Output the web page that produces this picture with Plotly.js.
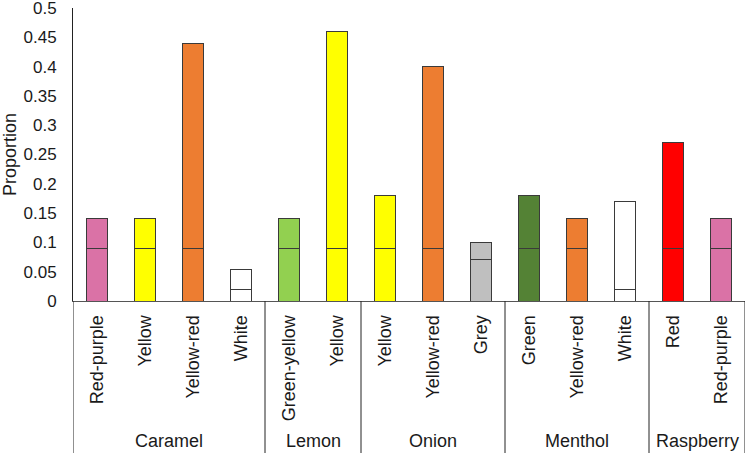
<!DOCTYPE html>
<html>
<head>
<meta charset="utf-8">
<script src="https://cdn.plot.ly/plotly-3.0.1.min.js"></script>
<style>html,body{margin:0;padding:0;background:#fff;}#chart{width:747px;height:453px;}</style>
</head>
<body>
<div id="chart"></div>
<script>
const flavours = ["Caramel","Caramel","Caramel","Caramel","Lemon","Lemon","Onion","Onion","Onion","Menthol","Menthol","Menthol","Raspberry","Raspberry"];
const colourNames = ["Red-purple","Yellow","Yellow-red","White","Green-yellow","Yellow","Yellow","Yellow-red","Grey","Green","Yellow-red","White","Red","Red-purple"];
const proportions = [0.14,0.14,0.44,0.053,0.14,0.46,0.18,0.40,0.10,0.18,0.14,0.17,0.27,0.14];
const thresholds = [0.09,0.09,0.09,0.02,0.09,0.09,0.09,0.09,0.07,0.09,0.09,0.02,0.09,0.09];
const groups = ["Caramel","Lemon","Onion","Menthol","Raspberry"];
const yTickVals = [0,0.05,0.1,0.15,0.2,0.25,0.3,0.35,0.4,0.45,0.5];
const yTickText = ["0","0.05","0.1","0.15","0.2","0.25","0.3","0.35","0.4","0.45","0.5"];
const fills = {"Red-purple":"#DA72A6","Yellow":"#FFFF00","Yellow-red":"#ED7D31","White":"#FFFFFF","Green-yellow":"#92D050","Grey":"#BFBFBF","Green":"#548235","Red":"#FF0000"};

const idx = colourNames.map((_, i) => i);
const barColours = colourNames.map(c => fills[c]);
const lineStyle = {color:"#3a3a3a", width:1};
const lowerTrace = {type:"bar", x:idx, y:thresholds, width:0.42, marker:{color:barColours, line:lineStyle}, hoverinfo:"skip"};
const upperTrace = {type:"bar", x:idx, y:proportions.map((p,i)=>p-thresholds[i]), width:0.42, marker:{color:barColours, line:lineStyle}, hoverinfo:"skip"};

const FONT = "Liberation Sans, Arial, sans-serif";
const plotH = 453 - 8 - 152;
const bottomFrac = -152 / plotH;
const shapes = [];
const annotations = [];
const bounds = [-0.5];
groups.forEach(g => {
  const members = idx.filter(i => flavours[i] === g);
  const last = members[members.length-1];
  bounds.push(last + 0.5);
  annotations.push({x:(members[0]+last)/2, xref:"x", y:(301-441)/plotH, yref:"paper", text:g, showarrow:false, font:{family:FONT, size:18, color:"#1a1a1a"}, yanchor:"middle"});
});
bounds.forEach(b => shapes.push({type:"line", xref:"x", yref:"paper", x0:b, x1:b, y0:0, y1:bottomFrac, line:{color:"#222", width:1}}));

const layout = {
  width:747, height:453,
  margin:{l:73, r:2, t:8, b:152},
  barmode:"stack",
  showlegend:false,
  paper_bgcolor:"#fff", plot_bgcolor:"#fff",
  font:{family:FONT, size:17, color:"#1a1a1a"},
  xaxis:{range:[-0.5,13.5], tickvals:idx, ticktext:colourNames, tickangle:-90, showline:true, linecolor:"#555", linewidth:1, ticks:"", ticklabelstandoff:6, showgrid:false, zeroline:false, tickfont:{size:18, color:"#1a1a1a"}, fixedrange:true},
  yaxis:{range:[0,0.5], tickmode:"array", tickvals:yTickVals, ticktext:yTickText, ticklabeloverflow:"allow", showline:true, linecolor:"#222", linewidth:1, ticks:"", ticklabelstandoff:12, showgrid:false, zeroline:false, tickfont:{size:17, color:"#1a1a1a"}, title:{text:"Proportion", font:{size:18, color:"#1a1a1a"}, standoff:8}, fixedrange:true},
  shapes:shapes,
  annotations:annotations
};
Plotly.newPlot("chart", [lowerTrace, upperTrace], layout, {staticPlot:true, displayModeBar:false});
</script>
</body>
</html>
